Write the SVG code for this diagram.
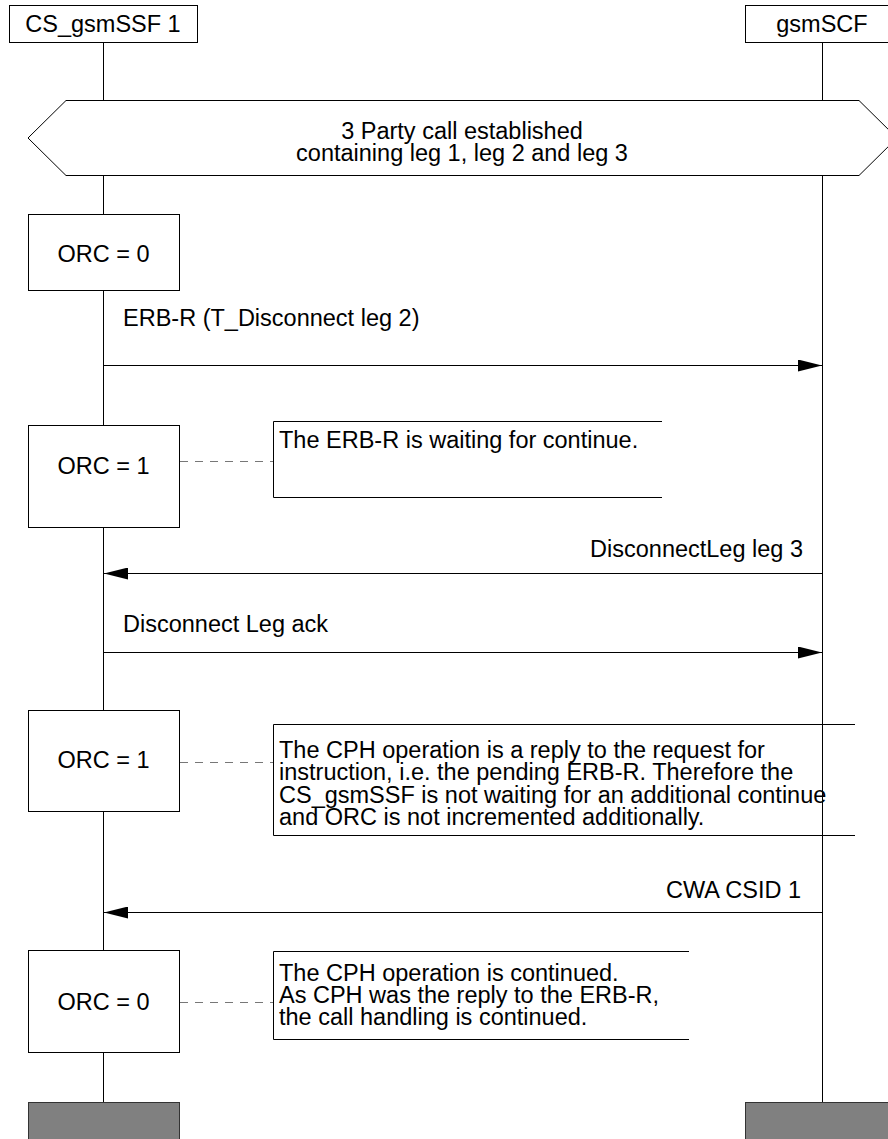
<svg xmlns="http://www.w3.org/2000/svg" width="888" height="1139" viewBox="0 0 888 1139">
  <style>
    text { font-family: "Liberation Sans", Arial, sans-serif; font-size: 23.5px; fill: #000; }
    .mid { text-anchor: middle; }
    .end { text-anchor: end; }
    .box { fill: #fff; stroke: #000; stroke-width: 1; }
    .stop { fill: #808080; stroke: #333; stroke-width: 1; }
    .life { stroke: #000; stroke-width: 1; fill: none; }
    .msg { stroke: #000; stroke-width: 1; fill: none; marker-end: url(#head); }
    .link { stroke: #777; stroke-width: 1; stroke-dasharray: 8 7; fill: none; }
    .note { stroke: #000; stroke-width: 1; fill: none; }
  </style>
  <defs>
    <marker id="head" markerUnits="userSpaceOnUse" markerWidth="24" markerHeight="12" refX="24" refY="6" orient="auto">
      <path d="M0,0 L24,6 L0,12 z" fill="#000"/>
    </marker>
  </defs>
  <rect width="888" height="1139" fill="#fff"/>

  <!-- lifelines -->
  <g id="lifelines">
    <line class="life" x1="103.5" y1="42" x2="103.5" y2="1102"/>
    <line class="life" x1="822.5" y1="42" x2="822.5" y2="1102"/>
  </g>

  <!-- instance heads -->
  <g id="ssf-head">
    <rect class="box" x="9.5" y="5.5" width="188" height="37"/>
    <text class="mid" x="103" y="32">CS_gsmSSF 1</text>
  </g>
  <g id="scf-head">
    <rect class="box" x="745.5" y="5.5" width="160" height="37"/>
    <text class="mid" x="822" y="32">gsmSCF</text>
  </g>

  <!-- shared condition -->
  <g id="condition">
    <polygon class="box" points="66,100.5 859,100.5 897,138 859,175.5 66,175.5 28,138"/>
    <text class="mid" x="462" y="139">3 Party call established</text>
    <text class="mid" x="462" y="161">containing leg 1, leg 2 and leg 3</text>
  </g>

  <!-- ORC state boxes -->
  <g id="orc0-a">
    <rect class="box" x="28.5" y="214.5" width="151" height="76"/>
    <text class="mid" x="103.5" y="262">ORC = 0</text>
  </g>
  <g id="orc1-a">
    <rect class="box" x="28.5" y="425.5" width="151" height="102"/>
    <text class="mid" x="103.5" y="474">ORC = 1</text>
  </g>
  <g id="orc1-b">
    <rect class="box" x="28.5" y="710.5" width="151" height="101"/>
    <text class="mid" x="103.5" y="768">ORC = 1</text>
  </g>
  <g id="orc0-b">
    <rect class="box" x="28.5" y="950.5" width="151" height="102"/>
    <text class="mid" x="103.5" y="1010">ORC = 0</text>
  </g>

  <!-- comments -->
  <g id="note-1">
    <path class="note" d="M662,421.5 H273.5 V497.5 H662"/>
    <text x="279" y="448">The ERB-R is waiting for continue.</text>
  </g>
  <g id="note-2">
    <path class="note" d="M855,724.5 H273.5 V835.5 H855"/>
    <text x="279" y="758">The CPH operation is a reply to the request for</text>
    <text x="279" y="780">instruction, i.e. the pending ERB-R. Therefore the</text>
    <text x="279" y="803">CS_gsmSSF is not waiting for an additional continue</text>
    <text x="279" y="825">and ORC is not incremented additionally.</text>
  </g>
  <g id="note-3">
    <path class="note" d="M689,951.5 H273.5 V1039.5 H689"/>
    <text x="279" y="981">The CPH operation is continued.</text>
    <text x="279" y="1003">As CPH was the reply to the ERB-R,</text>
    <text x="279" y="1025">the call handling is continued.</text>
  </g>

  <!-- instance ends -->
  <g id="ssf-end">
    <rect class="stop" x="28.5" y="1102.5" width="151" height="50"/>
  </g>
  <g id="scf-end">
    <rect class="stop" x="745.5" y="1102.5" width="160" height="50"/>
  </g>

  <!-- messages and comment links -->
  <g id="connectors">
    <line class="msg" x1="103.5" y1="365.5" x2="822" y2="365.5"/>
    <text x="123" y="326">ERB-R (T_Disconnect leg 2)</text>
    <line class="link" x1="180" y1="461.5" x2="273" y2="461.5"/>
    <line class="msg" x1="822" y1="573.5" x2="104" y2="573.5"/>
    <text class="end" x="803" y="557">DisconnectLeg leg 3</text>
    <line class="msg" x1="103.5" y1="652.5" x2="822" y2="652.5"/>
    <text x="123" y="632">Disconnect Leg ack</text>
    <line class="link" x1="180" y1="762.5" x2="273" y2="762.5"/>
    <line class="msg" x1="822" y1="912.5" x2="104" y2="912.5"/>
    <text class="end" x="801" y="898">CWA CSID 1</text>
    <line class="link" x1="180" y1="1002.5" x2="273" y2="1002.5"/>
  </g>
</svg>
